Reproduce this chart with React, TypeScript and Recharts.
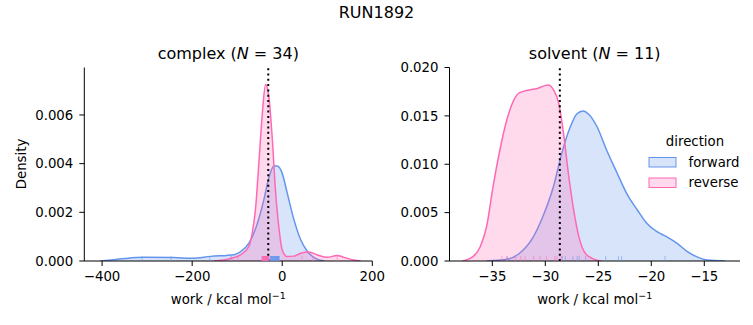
import React from "react";
import {
  ComposedChart,
  Area,
  Scatter,
  XAxis,
  YAxis,
  ReferenceLine,
} from "recharts";

// ─── Data ────────────────────────────────────────────────────────────────────
const BLUE = "#6495ED";
const PINK = "#FF69B4";
const FONT = "DejaVu Sans, sans-serif";

// complex leg: KDE curves
const complexFwdWork = [-404, -380, -350, -307, -241, -200, -159, -107, -93, -74, -56, -41, -30, -18.5, -11, 0, 11, 26, 41, 56, 74, 93];
const complexFwdDensity = [0, 0.00004, 0.0001, 0.00015, 0.00014, 0.00011, 0.00019, 0.00026, 0.00037, 0.00073, 0.0015, 0.0025, 0.0034, 0.0039, 0.0039, 0.0036, 0.0028, 0.0017, 0.00087, 0.00039, 0.00011, 0];
const complexRevWork = [-152, -115, -93, -74, -67, -59, -52, -44, -37, -30, -22, -15, -7, 0, 11, 26, 41, 59, 78, 100, 122, 137, 159, 174];
const complexRevDensity = [0, 0.0001, 0.00025, 0.0006, 0.0011, 0.0022, 0.004, 0.0061, 0.00725, 0.0068, 0.005, 0.0029, 0.0013, 0.00045, 0.00018, 0.0002, 0.00032, 0.00037, 0.00025, 0.00015, 0.00023, 0.00015, 0.00004, 0];

// complex leg: rug samples
const complexFwdRug = [-311, -247, -161, -112, -27, -26, -25, -24.5, -24, -23, -22, -21.5, -21, -20, -19, -18.5, -18, -17, -16, -15.5, -15, -14, -13, -12.5, -12, -11, -10.5, -10, -9.5, -9, -8.5, -8, -7.5, -7];
const complexRevRug = [-115, -98, -45, -44, -43.5, -43, -42, -41.5, -41, -40, -39.5, -39, -38.5, -38, -37.5, -37, -36.5, -36, -35.5, -35, -34.5, -34, -33.5, -33, -32.5, -32, -31.5, -31, -30.5, -30, 44, 68, 122, -40.5];
const complexMean = -31;

// solvent leg: KDE curves
const solventFwdWork = [-35.53, -33.63, -32.43, -31.13, -30.23, -29.23, -28.43, -27.63, -27.03, -26.43, -25.93, -25.13, -24.23, -23.23, -22.33, -21.33, -20.43, -19.43, -18.53, -17.53, -16.63, -15.63, -14.73, -13.03];
const solventFwdDensity = [0, 0.00017, 0.0008, 0.0025, 0.0046, 0.0077, 0.0112, 0.0139, 0.0152, 0.0155, 0.0152, 0.0139, 0.0115, 0.0091, 0.007, 0.0053, 0.0039, 0.003, 0.0025, 0.0018, 0.001, 0.0004, 0.0001, 0];
const solventRevWork = [-37.83, -36.83, -36.13, -35.53, -34.93, -34.28, -33.63, -33.03, -32.43, -31.43, -30.83, -30.13, -29.73, -29.23, -28.73, -28.28, -27.83, -27.33, -26.83, -26.23, -25.43, -24.73];
const solventRevDensity = [0, 0.00045, 0.0015, 0.0036, 0.0077, 0.0115, 0.0146, 0.0165, 0.0174, 0.0177, 0.0178, 0.0181, 0.0182, 0.0177, 0.0163, 0.0132, 0.0091, 0.0053, 0.0025, 0.0008, 0.0002, 0];

// solvent leg: rug samples
const solventFwdRug = [-33.6, -28.4, -28.1, -27.4, -27.0, -26.8, -26.2, -24.3, -23.1, -22.8, -18.7];
const solventRevRug = [-34.1, -33.6, -32.8, -32.3, -31.9, -31.1, -30.5, -29.9, -29.1, -28.9, -28.5];
const solventMean = -28.63;

// ticks
const complexXTicks = [-400, -200, 0, 200];
const complexYTicks = [0, 0.002, 0.004, 0.006];
const solventXTicks = [-35, -30, -25, -20, -15];
const solventYTicks = [0, 0.005, 0.01, 0.015, 0.02];

// ─── Helpers ─────────────────────────────────────────────────────────────────
function mergeCurves(fx: number[], fy: number[], rx: number[], ry: number[]) {
  const rows: any[] = [];
  fx.forEach((x, i) => rows.push({ x, fwd: fy[i] }));
  rx.forEach((x, i) => rows.push({ x, rev: ry[i] }));
  rows.sort((a, b) => a.x - b.x);
  return rows;
}

const rugRows = (vals: number[]) => vals.map((x) => ({ x, y: 0 }));

const minus = (v: number) => String(v).replace("-", "\u2212");

const rugShape = (color: string) => (props: any) => {
  const { cx, cy } = props;
  return (
    <line
      x1={cx}
      x2={cx}
      y1={cy}
      y2={cy - 5}
      stroke={color}
      strokeWidth={1}
      strokeOpacity={0.55}
    />
  );
};

const tickStyle = { fontSize: 13.3, fill: "#000", fontFamily: FONT };

interface PanelProps {
  left: number;
  width: number;
  marginLeft: number;
  marginRight: number;
  data: any[];
  fwdRug: number[];
  revRug: number[];
  mean: number;
  xDomain: [number, number];
  yDomain: [number, number];
  xTicks: number[];
  yTicks: number[];
}

function Panel(p: PanelProps) {
  return (
    <div style={{ position: "absolute", left: p.left, top: 0 }}>
      <ComposedChart
        width={p.width}
        height={325}
        data={p.data}
        margin={{ top: 67.5, right: p.marginRight, left: p.marginLeft, bottom: 34 }}
      >
        <XAxis
          dataKey="x"
          type="number"
          domain={p.xDomain}
          ticks={p.xTicks}
          interval={0}
          allowDataOverflow
          stroke="#000"
          tickSize={5}
          tickMargin={6}
          height={30}
          tick={tickStyle}
          tickFormatter={minus}
        />
        <YAxis
          dataKey="y"
          type="number"
          domain={p.yDomain}
          ticks={p.yTicks}
          interval={0}
          allowDataOverflow
          stroke="#000"
          tickSize={5}
          tickMargin={6}
          width={60}
          tick={tickStyle}
          tickFormatter={(v: number) => v.toFixed(3)}
        />
        <Area
          type="monotone"
          dataKey="fwd"
          stroke={BLUE}
          strokeWidth={1.5}
          fill={BLUE}
          fillOpacity={0.25}
          connectNulls
          dot={false}
          activeDot={false}
          isAnimationActive={false}
        />
        <Area
          type="monotone"
          dataKey="rev"
          stroke={PINK}
          strokeWidth={1.5}
          fill={PINK}
          fillOpacity={0.25}
          connectNulls
          dot={false}
          activeDot={false}
          isAnimationActive={false}
        />
        <Scatter data={rugRows(p.fwdRug)} shape={rugShape(BLUE)} isAnimationActive={false} />
        <Scatter data={rugRows(p.revRug)} shape={rugShape(PINK)} isAnimationActive={false} />
        <ReferenceLine
          x={p.mean}
          stroke="#000"
          strokeWidth={2}
          strokeDasharray="2 3.3"
        />
      </ComposedChart>
    </div>
  );
}

// ─── Chart ───────────────────────────────────────────────────────────────────
export default function App() {
  const complexData = mergeCurves(complexFwdWork, complexFwdDensity, complexRevWork, complexRevDensity);
  const solventData = mergeCurves(solventFwdWork, solventFwdDensity, solventRevWork, solventRevDensity);

  return (
    <div
      style={{
        position: "absolute",
        left: 0,
        top: 0,
        width: 753,
        height: 325,
        background: "#fff",
        overflow: "hidden",
      }}
    >
      <Panel
        left={0}
        width={400}
        marginLeft={24.3}
        marginRight={27.7}
        data={complexData}
        fwdRug={complexFwdRug}
        revRug={complexRevRug}
        mean={complexMean}
        xDomain={[-439.5, 200]}
        yDomain={[0, 0.00795]}
        xTicks={complexXTicks}
        yTicks={complexYTicks}
      />
      <Panel
        left={380}
        width={373}
        marginLeft={9.5}
        marginRight={13}
        data={solventData}
        fwdRug={solventFwdRug}
        revRug={solventRevRug}
        mean={solventMean}
        xDomain={[-39.04, -11.63]}
        yDomain={[0, 0.02]}
        xTicks={solventXTicks}
        yTicks={solventYTicks}
      />

      {/* text overlay: titles, axis labels, legend */}
      <svg
        width={753}
        height={325}
        style={{ position: "absolute", left: 0, top: 0, pointerEvents: "none" }}
        fontFamily={FONT}
      >
        <text x={376.5} y={17.5} fontSize={16} textAnchor="middle">RUN1892</text>

        <text x={228.3} y={59} fontSize={16} textAnchor="middle">
          complex (<tspan fontStyle="italic">N</tspan> = 34)
        </text>
        <text x={594.7} y={59} fontSize={16} textAnchor="middle">
          solvent (<tspan fontStyle="italic">N</tspan> = 11)
        </text>

        <text x={228.3} y={304} fontSize={13.3} textAnchor="middle">
          work / kcal mol<tspan fontSize={9.5} dy={-5.5}>{"\u22121"}</tspan>
        </text>
        <text x={594.7} y={304} fontSize={13.3} textAnchor="middle">
          work / kcal mol<tspan fontSize={9.5} dy={-5.5}>{"\u22121"}</tspan>
        </text>

        <text
          x={0}
          y={0}
          fontSize={13.3}
          textAnchor="middle"
          transform="translate(25.5,164) rotate(-90)"
        >
          Density
        </text>

        {/* legend */}
        <text x={695} y={146} fontSize={13.3} textAnchor="middle">direction</text>
        <rect x={649} y={157.5} width={27} height={9.5} fill={BLUE} fillOpacity={0.25} stroke={BLUE} strokeWidth={1} />
        <text x={688.5} y={166.5} fontSize={13.3}>forward</text>
        <rect x={649} y={178} width={27} height={9.5} fill={PINK} fillOpacity={0.25} stroke={PINK} strokeWidth={1} />
        <text x={688.5} y={187} fontSize={13.3}>reverse</text>
      </svg>
    </div>
  );
}
